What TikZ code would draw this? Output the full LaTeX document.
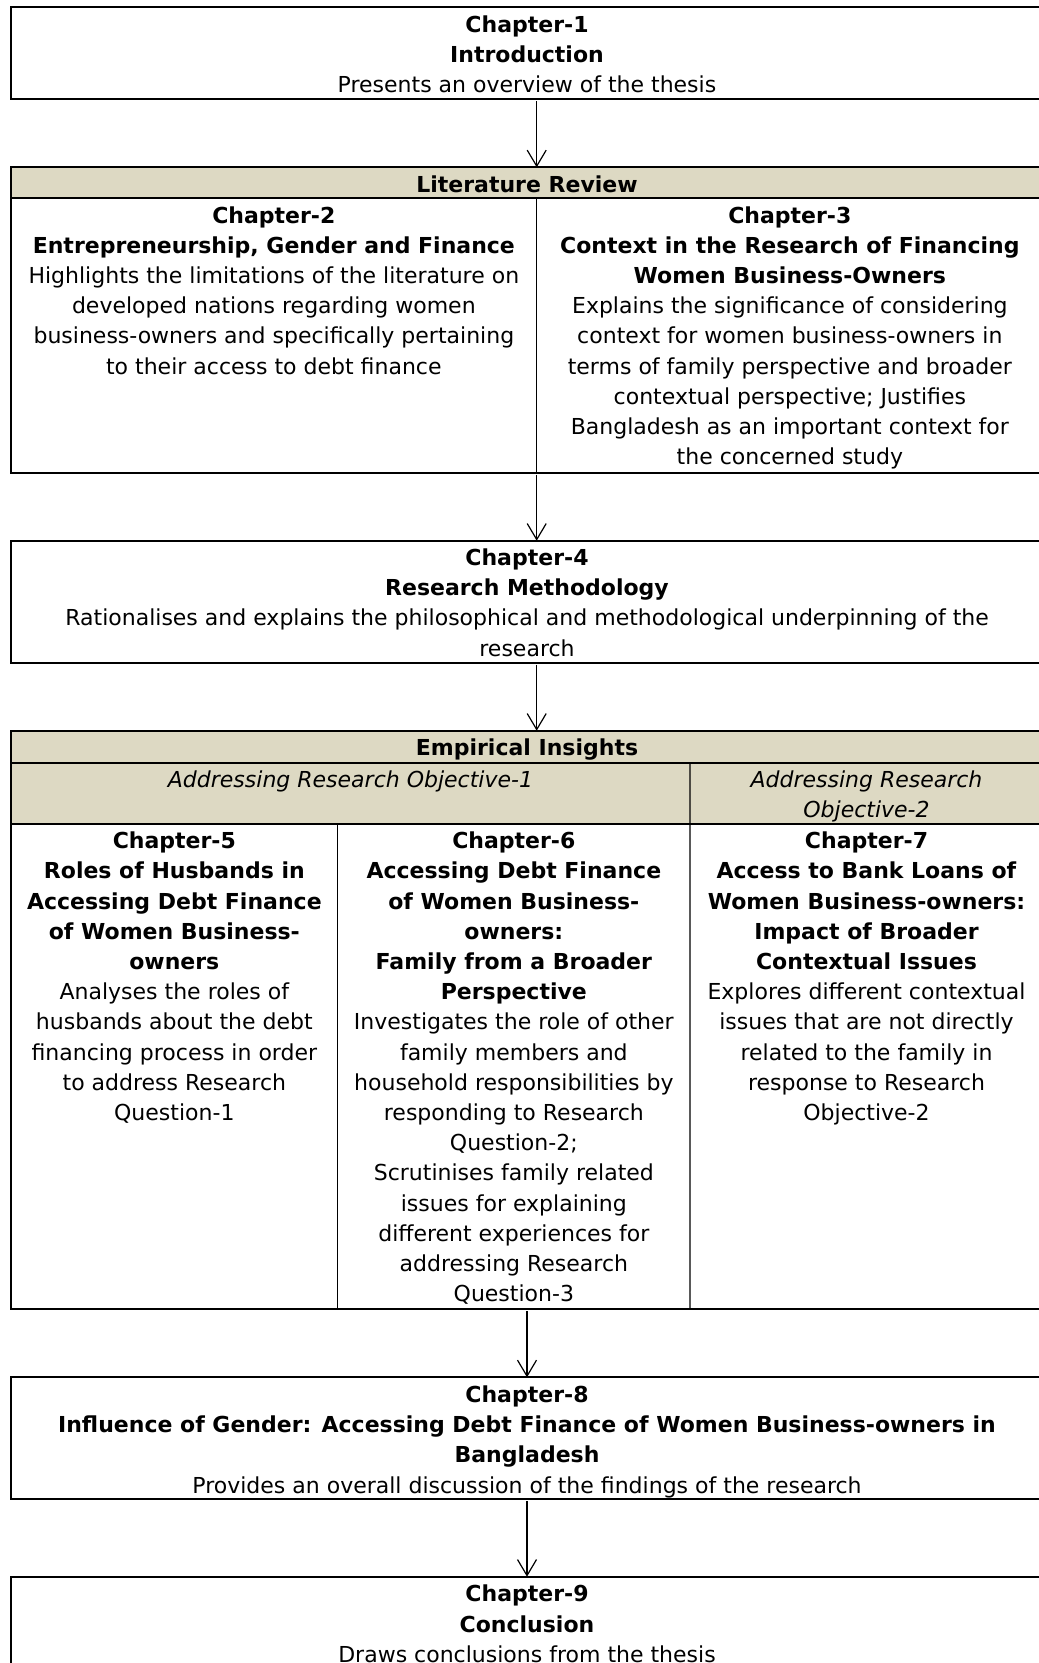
\documentclass[tikz,border=0pt]{standalone}
\usepackage{fontspec}
\setmainfont{DejaVu Sans}
\usetikzlibrary{arrows.meta,fit}
\definecolor{headfill}{RGB}{221,217,195}
\begin{document}
\begin{tikzpicture}[x=1pt,y=-1pt,
  frame/.style={draw, line width=2pt, inner sep=0pt, outer sep=0pt},
  head/.style={frame, fill=headfill},
  cell/.style={inner sep=0pt, outer sep=0pt},
  band/.style={cell, fill=headfill},
  txt/.style={anchor=north, inner sep=0pt, outer sep=0pt, align=center,
              font=\fontsize{22}{30.2}\selectfont},
  divider/.style={line width=1.4pt},
  link/.style={line width=1.2pt, shorten <=2pt,
               -{Straight Barb[length=16pt,width=19pt,line width=1.2pt]}}]

\useasboundingbox (0,0) rectangle (1039,1663);
\clip (0,0) rectangle (1039,1663);
\fill[white] (0,0) rectangle (1039,1663);

% Chapter 1
\node[frame, fit={(11,7.3) (1043,99.3)}] (c1) {};
\node[txt] (c1t) at ([yshift=-8pt]c1.north)
  {\textbf{Chapter-1}\\\textbf{Introduction}\\Presents an overview of the thesis};

% Literature review: chapters 2 and 3
\node[head, fit={(11,167.3) (1043,198.3)}] (lith) {};
\node[txt] (litht) at ([yshift=-8.5pt]lith.north) {\textbf{Literature Review}};
\node[cell, fit={(11,198.3) (536.7,472.7)}] (lit2) {};
\node[cell, fit={(536.7,198.3) (1043,472.7)}] (lit3) {};
\draw[divider] (lit2.north east) -- (lit2.south east);
\node[frame, fit={(11,167.3) (1043,472.7)}] (lit) {};
\node[txt] (lit2t) at ([yshift=-8pt]lit2.north)
  {\textbf{Chapter-2}\\
   \textbf{Entrepreneurship, Gender and Finance}\\
   Highlights the limitations of the literature on\\
   developed nations regarding women\\
   business-owners and specifically pertaining\\
   to their access to debt finance};
\node[txt] (lit3t) at ([yshift=-8pt]lit3.north)
  {\textbf{Chapter-3}\\
   \textbf{Context in the Research of Financing}\\
   \textbf{Women Business-Owners}\\
   Explains the significance of considering\\
   context for women business-owners in\\
   terms of family perspective and broader\\
   contextual perspective; Justifies\\
   Bangladesh as an important context for\\
   the concerned study};

% Chapter 4
\node[frame, fit={(11,540.7) (1043,662.7)}] (c4) {};
\node[txt] (c4t) at ([yshift=-8pt]c4.north)
  {\textbf{Chapter-4}\\
   \textbf{Research Methodology}\\
   Rationalises and explains the philosophical and methodological underpinning of the\\
   research};

% Empirical insights: chapters 5, 6 and 7
\node[band, fit={(11,762.7) (690,824)}] (obj1) {};
\node[band, fit={(690,762.7) (1043,824)}] (obj2) {};
\node[cell, fit={(11,824) (337.7,1309)}] (ch5) {};
\node[cell, fit={(337.7,824) (690,1309)}] (ch6) {};
\node[cell, fit={(690,824) (1043,1309)}] (ch7) {};
\draw[divider] (obj1.south west) -- (obj2.south east);
\draw[divider] (obj1.north east) -- (ch6.south east);
\draw[divider] (ch5.north east) -- (ch5.south east);
\node[head, fit={(11,730.7) (1043,762.7)}] (emph) {};
\node[frame, fit={(11,730.7) (1043,1309)}] (emp) {};
\node[txt] (empht) at ([yshift=-8.5pt]emph.north) {\textbf{Empirical Insights}};
\node[txt] (obj1t) at ([yshift=-8pt]obj1.north) {\textit{Addressing Research Objective-1}};
\node[txt] (obj2t) at ([yshift=-8pt]obj2.north) {\textit{Addressing Research}\\\textit{Objective-2}};
\node[txt] (ch5t) at ([yshift=-8pt]ch5.north)
  {\textbf{Chapter-5}\\
   \textbf{Roles of Husbands in}\\
   \textbf{Accessing Debt Finance}\\
   \textbf{of Women Business-}\\
   \textbf{owners}\\
   Analyses the roles of\\
   husbands about the debt\\
   financing process in order\\
   to address Research\\
   Question-1};
\node[txt] (ch6t) at ([yshift=-8pt]ch6.north)
  {\textbf{Chapter-6}\\
   \textbf{Accessing Debt Finance}\\
   \textbf{of Women Business-}\\
   \textbf{owners:}\\
   \textbf{Family from a Broader}\\
   \textbf{Perspective}\\
   Investigates the role of other\\
   family members and\\
   household responsibilities by\\
   responding to Research\\
   Question-2;\\
   Scrutinises family related\\
   issues for explaining\\
   different experiences for\\
   addressing Research\\
   Question-3};
\node[txt] (ch7t) at ([yshift=-8pt]ch7.north)
  {\textbf{Chapter-7}\\
   \textbf{Access to Bank Loans of}\\
   \textbf{Women Business-owners:}\\
   \textbf{Impact of Broader}\\
   \textbf{Contextual Issues}\\
   Explores different contextual\\
   issues that are not directly\\
   related to the family in\\
   response to Research\\
   Objective-2};

% Chapter 8
\node[frame, fit={(11,1377.3) (1043,1499)}] (c8) {};
\node[txt] (c8t) at ([yshift=-8.5pt]c8.north)
  {\textbf{Chapter-8}\\
   \textbf{Influence of Gender: Accessing Debt Finance of Women Business-owners in}\\
   \textbf{Bangladesh}\\
   Provides an overall discussion of the findings of the research};

% Chapter 9
\node[frame, fit={(11,1576.7) (1043,1700)}] (c9) {};
\node[txt] (c9t) at ([yshift=-8.5pt]c9.north)
  {\textbf{Chapter-9}\\\textbf{Conclusion}\\Draws conclusions from the thesis};

% Flow between the parts
\draw[link] (c1.south -| lit2.east) -- (lit.north -| lit2.east);
\draw[link] (lit2.south east) -- (c4.north -| lit2.east);
\draw[link] (c4.south -| lit2.east) -- (emp.north -| lit2.east);
\draw[link] (emp.south) -- (c8.north);
\draw[link] (c8.south) -- (c9.north);
\end{tikzpicture}
\end{document}
